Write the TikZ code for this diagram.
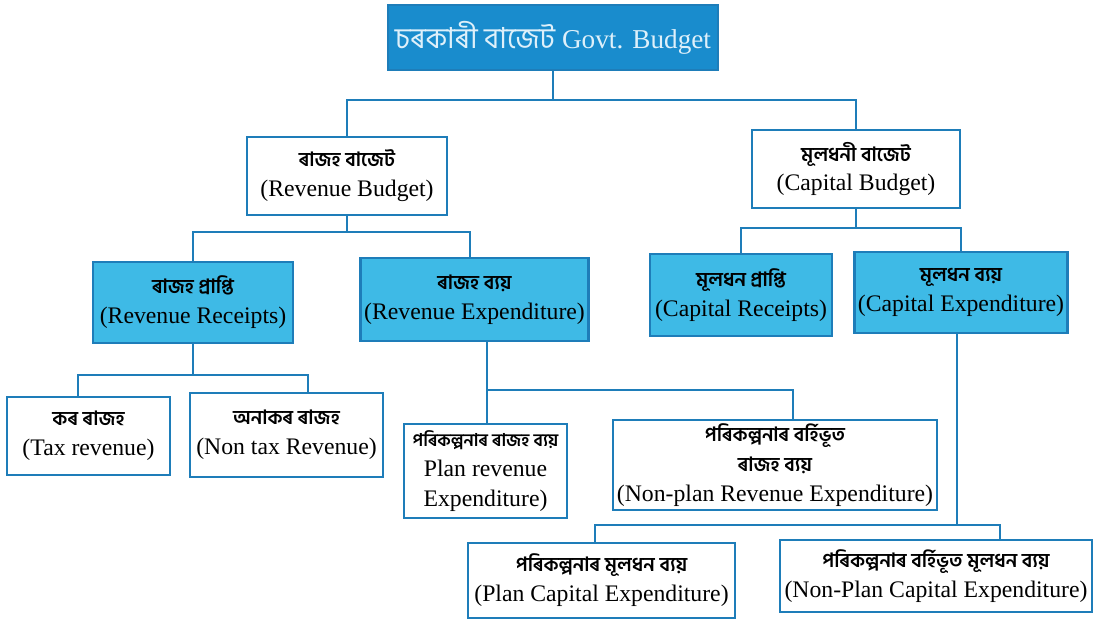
\documentclass[tikz,border=0pt]{standalone}
\usepackage{fontspec}
\setmainfont{Liberation Serif}
\newfontfamily\bn[Script=Bengali]{Hind Siliguri}
\newcommand\bnl{\bn\bfseries\fontsize{11.2}{15}\selectfont}
\definecolor{linkblue}{RGB}{30,125,185}
\definecolor{topblue}{RGB}{25,140,205}
\definecolor{lightblue}{RGB}{62,186,230}
\definecolor{toptext}{RGB}{222,240,250}
\begin{document}
\begin{tikzpicture}[x=0.02cm, y=-0.02cm,
  box/.style={draw=linkblue, line width=1.6pt, fill=white, align=center, inner sep=2pt,
    font=\fontsize{13.5}{17}\selectfont},
  filled/.style={box, fill=lightblue},
  link/.style={draw=linkblue, line width=1.4pt}]

\useasboundingbox (0,0) rectangle (1097,629);

% draw top box
\node[box, fill=topblue, text=toptext, minimum width=330*0.02cm, minimum height=65*0.02cm,
  font=\fontsize{15.5}{19}\selectfont] (govt) at (553,37.5) {{\bn\fontsize{16.5}{19}\selectfont চৰকাৰী বাজেট} Govt. Budget};

% draw budget boxes
\node[box, minimum width=200*0.02cm, minimum height=78*0.02cm] (revb) at (347,176)
  {{\bnl ৰাজহ বাজেট}\\(Revenue Budget)};
\node[box, minimum width=208*0.02cm, minimum height=78*0.02cm] (capb) at (856,169)
  {{\bnl মূলধনী বাজেট}\\(Capital Budget)};

% draw receipts and expenditure
\node[filled, minimum width=200*0.02cm, minimum height=81*0.02cm] (revr) at (193,302.5)
  {{\bnl ৰাজহ প্ৰাপ্তি}\\(Revenue Receipts)};
\node[filled, minimum width=225*0.02cm, minimum height=83*0.02cm] (reve) at (474.5,299.5)
  {{\bnl ৰাজহ ব্যয়}\\(Revenue Expenditure)};
\node[filled, minimum width=182*0.02cm, minimum height=82*0.02cm] (capr) at (741,295)
  {{\bnl মূলধন প্ৰাপ্তি}\\(Capital Receipts)};
\node[filled, minimum width=208*0.02cm, minimum height=81*0.02cm] (cape) at (961,292.5)
  {{\bnl মূলধন ব্যয়}\\(Capital Expenditure)};

% draw lower boxes
\node[box, minimum width=163*0.02cm, minimum height=78*0.02cm] (tax) at (88.5,436)
  {{\bnl কৰ ৰাজহ}\\(Tax revenue)};
\node[box, minimum width=193*0.02cm, minimum height=84*0.02cm] (ntax) at (286.5,435)
  {{\bnl অনাকৰ ৰাজহ}\\(Non tax Revenue)};
\node[box, minimum width=163*0.02cm, minimum height=94*0.02cm, inner xsep=1pt] (prev) at (485.5,471)
  {{\bn\bfseries\fontsize{10}{15}\selectfont পৰিকল্পনাৰ ৰাজহ ব্যয়}\\Plan revenue\\Expenditure)};
\node[box, minimum width=324*0.02cm, minimum height=90*0.02cm] (nprev) at (775,465)
  {{\bnl পৰিকল্পনাৰ বৰ্হিভূত}\\{\bnl ৰাজহ ব্যয়}\\(Non-plan Revenue Expenditure)};
\node[box, minimum width=267*0.02cm, minimum height=75*0.02cm] (pcap) at (601.5,580.5)
  {{\bnl পৰিকল্পনাৰ মূলধন ব্যয়}\\(Plan Capital Expenditure)};
\node[box, minimum width=312*0.02cm, minimum height=72*0.02cm] (npcap) at (936,576)
  {{\bnl পৰিকল্পনাৰ বৰ্হিভূত মূলধন ব্যয়}\\(Non-Plan Capital Expenditure)};

% junctions
\coordinate (j1) at (553,100);
\coordinate (j2) at (347,232);
\coordinate (j3) at (856,228);
\coordinate (j4) at (193,375);
\coordinate (j5) at (487,390);
\coordinate (j6) at (957,525);

% draw connectors
\draw[link] (govt) -- (j1);
\draw[link] (revb.north) |- (j1) -| (capb.north);
\draw[link] (revb) -- (j2);
\draw[link] (revr.north) |- (j2) -| (reve.north -| 470,0);
\draw[link] (capb) -- (j3);
\draw[link] (capr.north) |- (j3) -| (cape.north);
\draw[link] (revr) -- (j4);
\draw[link] (tax.north -| 78,0) |- (j4) -| (ntax.north -| 308,0);
\draw[link] (reve.south -| j5) -- (j5);
\draw[link] (prev.north -| j5) |- (j5) -| (nprev.north -| 793,0);
\draw[link] (cape.south -| j6) -- (j6);
\draw[link] (pcap.north -| 595,0) |- (j6) -| (npcap.north -| 1000,0);

\end{tikzpicture}
\end{document}
